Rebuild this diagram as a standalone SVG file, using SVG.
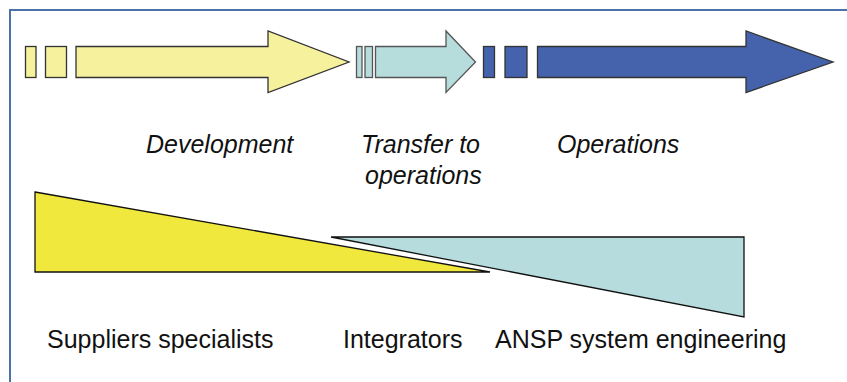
<svg xmlns="http://www.w3.org/2000/svg" width="847" height="382" viewBox="0 0 847 382">
<style>
.ar{stroke:#333;stroke-width:1.3;stroke-linejoin:miter}
.y{fill:#f6f19c}
.t{fill:#b6dcdc;stroke:#555}
.b{fill:#4563ad}
.lab{font-family:"Liberation Sans",Arial,sans-serif;font-size:25px;fill:#111}
.it{font-style:italic}
.tri{stroke:#111;stroke-width:1.3}
</style>
<rect x="0" y="0" width="847" height="382" fill="#fff"/>
<path d="M10,382 V10 H847" fill="none" stroke="#4a73a9" stroke-width="2"/>
<g id="development-arrow">
<rect class="ar y" x="25.5" y="46.5" width="10.5" height="31"/>
<rect class="ar y" x="45.5" y="46.5" width="21" height="31"/>
<path class="ar y" d="M76,46.5 H268 V31 L349,62 L268,92.5 V77.5 H76 Z"/>
</g>
<g id="transfer-arrow">
<rect class="ar t" x="356.5" y="46.5" width="5.5" height="31"/>
<rect class="ar t" x="365" y="46.5" width="7.5" height="31"/>
<path class="ar t" d="M375.5,46.5 H446 V31 L475.5,62 L446,92.5 V77.5 H375.5 Z"/>
</g>
<g id="operations-arrow">
<rect class="ar b" x="483.5" y="46.5" width="11" height="31"/>
<rect class="ar b" x="505" y="46.5" width="22" height="31"/>
<path class="ar b" d="M537.5,46.5 H746 V31 L833,62 L746,92.5 V77.5 H537.5 Z"/>
</g>
<g id="labels-phases">
<text class="lab it" x="146" y="153">Development</text>
<text class="lab it" x="361" y="153">Transfer to</text>
<text class="lab it" x="365" y="184">operations</text>
<text class="lab it" x="557" y="153">Operations</text>
</g>
<g id="suppliers-wedge">
<path class="tri" d="M35,192 L490,272 H35 Z" fill="#f0e83c"/>
</g>
<g id="ansp-wedge">
<path class="tri" d="M331,237 H744 V317 Z" fill="#b6dcdd"/>
</g>
<g id="labels-roles">
<text class="lab" x="47" y="348">Suppliers specialists</text>
<text class="lab" x="343" y="348">Integrators</text>
<text class="lab" x="495" y="348">ANSP system engineering</text>
</g>
</svg>
